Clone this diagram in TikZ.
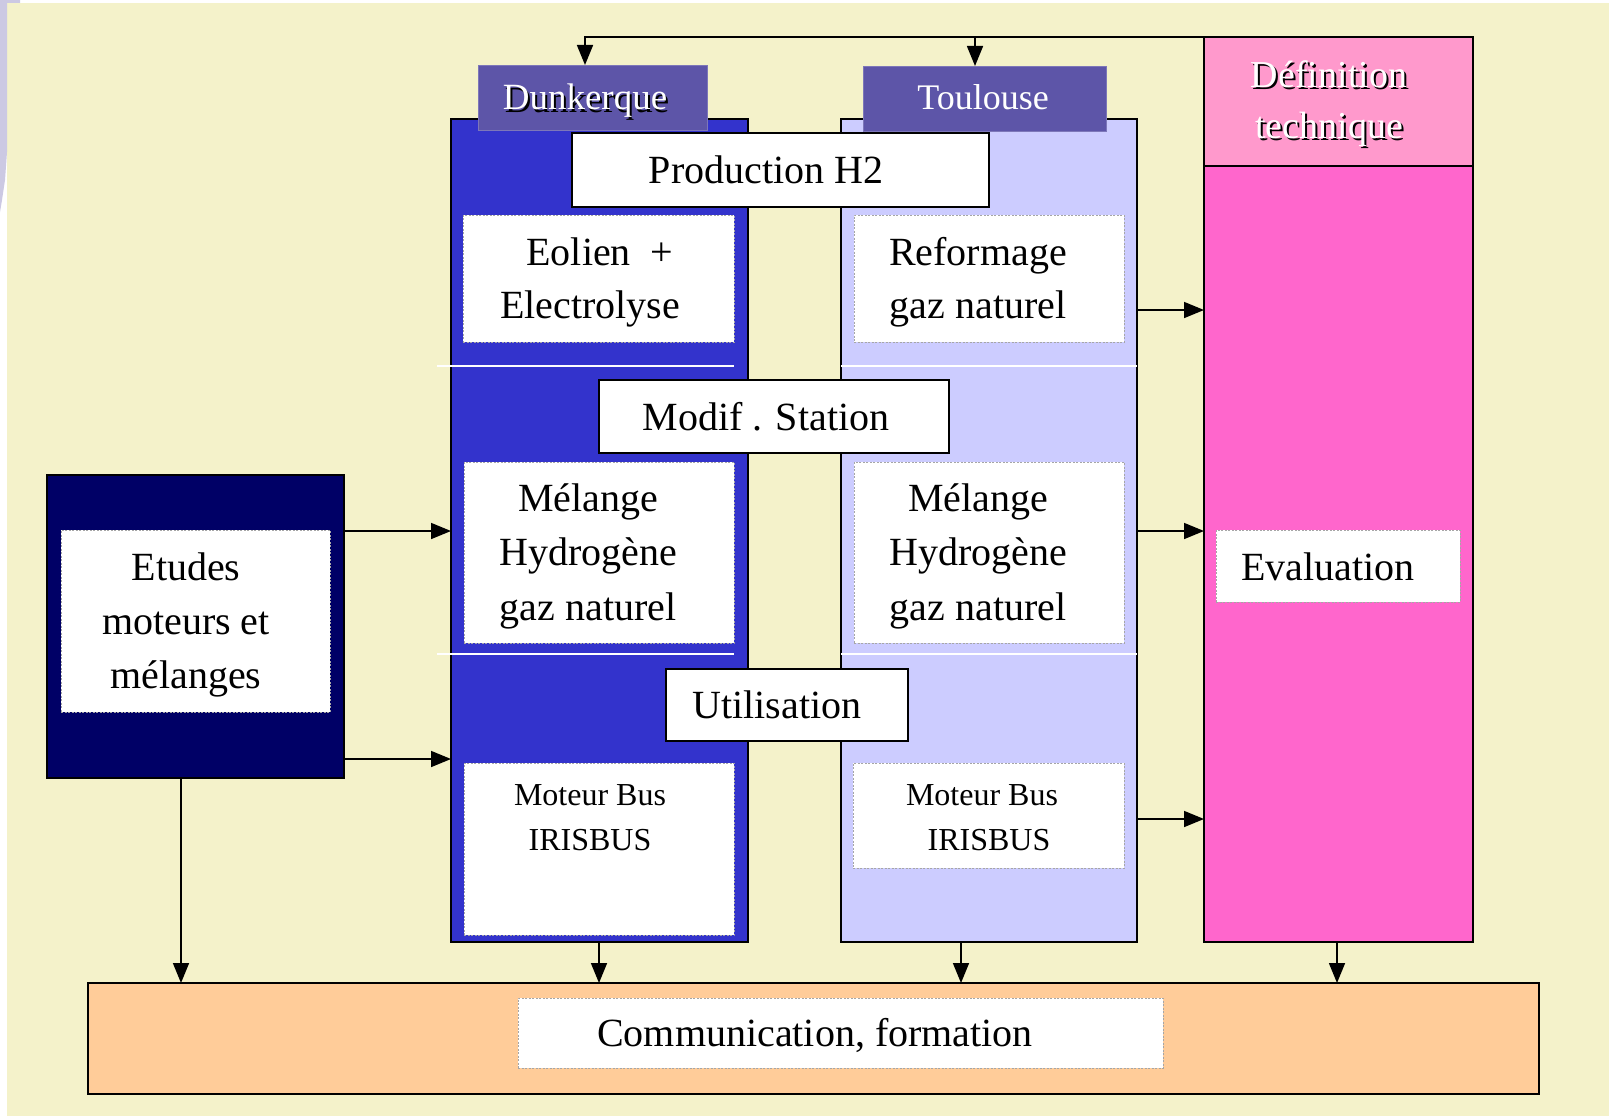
\documentclass[tikz,border=0pt]{standalone}
\usepackage{fontspec}
\setmainfont{Liberation Serif}
\usetikzlibrary{arrows.meta}
\definecolor{cream}{HTML}{F4F2CA}
\definecolor{lav}{HTML}{CCC9E3}
\definecolor{hdr}{HTML}{5D55A8}
\definecolor{dunkblue}{HTML}{3333CC}
\definecolor{toulblue}{HTML}{CCCCFF}
\definecolor{pinkh}{HTML}{FF99CC}
\definecolor{pinkb}{HTML}{FF66CC}
\definecolor{navy}{HTML}{000066}
\definecolor{peach}{HTML}{FFCC99}
\newcommand\shtxt[1]{\leavevmode\rlap{\kern2pt\raisebox{-2pt}{\textcolor{black}{#1}}}#1}
\begin{document}
\begin{tikzpicture}[x=1pt,y=-1pt,
  colbox/.style={draw=black, line width=1.6pt, inner sep=0pt, outer sep=0pt},
  hdrbox/.style={fill=hdr, draw=hdr!80!white, line width=0.6pt, inner sep=0pt, outer sep=0pt},
  blackbox/.style={fill=white, draw=black, line width=1.6pt, inner sep=0pt, outer sep=0pt},
  wbox/.style={fill=white, draw=gray!70, dash pattern=on 2pt off 1.5pt, line width=0.8pt, inner sep=0pt, outer sep=0pt},
  lab/.style={anchor=base, align=center, inner sep=0pt, font=\fontsize{40}{53}\selectfont},
  smalllab/.style={anchor=base, align=center, inner sep=0pt, font=\fontsize{32}{45}\selectfont},
  arr/.style={line width=1.6pt, -{Triangle[length=20pt,width=16pt]}},
  sep/.style={draw=white, line width=1.2pt}]
\useasboundingbox (0,0) rectangle (1609,1116);
% background
\fill[white] (0,0) rectangle (1609,1116);
\fill[cream] (7,3) rectangle (1609,1116);
\fill[lav] (0,0) -- (20,0) -- (20,3) -- (7,3) -- (7,152) -- (5,180) -- (2,200) -- (0,212) -- cycle;
% columns
\node[colbox, fill=dunkblue, minimum width=297, minimum height=823] (dunkcol) at (599.5,530.5) {};
\node[colbox, fill=toulblue, minimum width=296, minimum height=823] (toulcol) at (989,530.5) {};
\node[colbox, fill=pinkb, minimum width=269, minimum height=776] (defb) at (1338.5,554) {};
\node[colbox, fill=pinkh, minimum width=269, minimum height=129] (defh) at (1338.5,101.5) {};
\node[hdrbox, minimum width=229, minimum height=65] (dunkh) at (592.5,97.5) {};
\node[hdrbox, minimum width=243, minimum height=65] (toulh) at (984.5,98.5) {};
% separators
\draw[sep] (437,366) -- (734,366);
\draw[sep] (841,366) -- (1137,366);
\draw[sep] (437,654) -- (734,654);
\draw[sep] (841,654) -- (1137,654);
% inner boxes
\node[blackbox, minimum width=417, minimum height=74] (prod) at (780.5,170) {};
\node[wbox, minimum width=271, minimum height=127] (eol) at (598.5,278.5) {};
\node[wbox, minimum width=270, minimum height=127] (ref) at (989,278.5) {};
\node[blackbox, minimum width=350, minimum height=73] (modif) at (774,416.5) {};
\node[wbox, minimum width=270, minimum height=181] (mel1) at (599,552.5) {};
\node[wbox, minimum width=270, minimum height=181] (mel2) at (989,552.5) {};
\node[blackbox, minimum width=242, minimum height=72] (util) at (787,705) {};
\node[wbox, minimum width=270, minimum height=172] (mot1) at (599,849) {};
\node[wbox, minimum width=271, minimum height=105] (mot2) at (988.5,815.5) {};
\node[colbox, fill=navy, minimum width=297, minimum height=303] (etud) at (195.5,626.5) {};
\node[wbox, minimum width=269, minimum height=182] (etudin) at (195.5,621) {};
\node[wbox, minimum width=244, minimum height=72] (eval) at (1338,566) {};
\node[colbox, fill=peach, minimum width=1451, minimum height=111] (comm) at (813.5,1038.5) {};
\node[wbox, minimum width=645, minimum height=70] (commin) at (840.5,1033) {};
% texts (base anchor = baseline of the last line)
\node[lab, text=white, font=\fontsize{37}{48}\selectfont] (tdunk) at (585,110) {\shtxt{Dunkerque}};
\node[lab, text=white, font=\fontsize{36}{48}\selectfont] (ttoul) at (983,110) {Toulouse};
\node[lab, text=white, font=\fontsize{38}{51}\selectfont] (tdef) at (1329,138) {\shtxt{Définition}\\\shtxt{technique}};
\node[lab] (tprod) at (766,183) {Production H2};
\node[lab] (teol) at (590,318) {\kern20pt Eolien\ \ +\\Electrolyse};
\node[lab] (tref) at (978,318) {Reformage\\gaz naturel};
\node[lab] (tmodif) at (766,430) {Modif . Station};
\node[lab, font=\fontsize{40}{54.5}\selectfont] (tmel1) at (588,620) {Mélange\\Hydrogène\\gaz naturel};
\node[lab, font=\fontsize{40}{54.5}\selectfont] (tmel2) at (978,620) {Mélange\\Hydrogène\\gaz naturel};
\node[lab] (tutil) at (777,718) {Utilisation};
\node[smalllab] (tmot1) at (590,850) {Moteur Bus\\IRISBUS};
\node[smalllab] (tmot2) at (982,850) {Moteur Bus\\\kern14pt IRISBUS};
\node[lab, font=\fontsize{40}{54}\selectfont] (tetud) at (186,688) {Etudes\\moteurs et\\mélanges};
\node[lab] (teval) at (1328,580) {Evaluation};
\node[lab] (tcomm) at (815,1046) {Communication, formation};
% helper coordinates
\coordinate (ax1) at (585,0);
\coordinate (ax2) at (975,0);
\coordinate (ya) at (0,531);
\coordinate (yb) at (0,759);
\coordinate (yc1) at (0,310);
\coordinate (yc2) at (0,531);
\coordinate (yc3) at (0,819);
\coordinate (dx1) at (181,0);
\coordinate (dx2) at (599,0);
\coordinate (dx3) at (961,0);
\coordinate (dx4) at (1337,0);
% connectors
\draw[arr] (defh.north west) -| (dunkh.north -| ax1);
\draw[arr] (ax2 |- defh.north) -- (toulh.north -| ax2);
\draw[arr] (etud.east |- ya) -- (dunkcol.west |- ya);
\draw[arr] (etud.east |- yb) -- (dunkcol.west |- yb);
\draw[arr] (toulcol.east |- yc1) -- (defb.west |- yc1);
\draw[arr] (toulcol.east |- yc2) -- (defb.west |- yc2);
\draw[arr] (toulcol.east |- yc3) -- (defb.west |- yc3);
\draw[arr] (etud.south -| dx1) -- (comm.north -| dx1);
\draw[arr] (dunkcol.south -| dx2) -- (comm.north -| dx2);
\draw[arr] (toulcol.south -| dx3) -- (comm.north -| dx3);
\draw[arr] (defb.south -| dx4) -- (comm.north -| dx4);
\end{tikzpicture}
\end{document}
